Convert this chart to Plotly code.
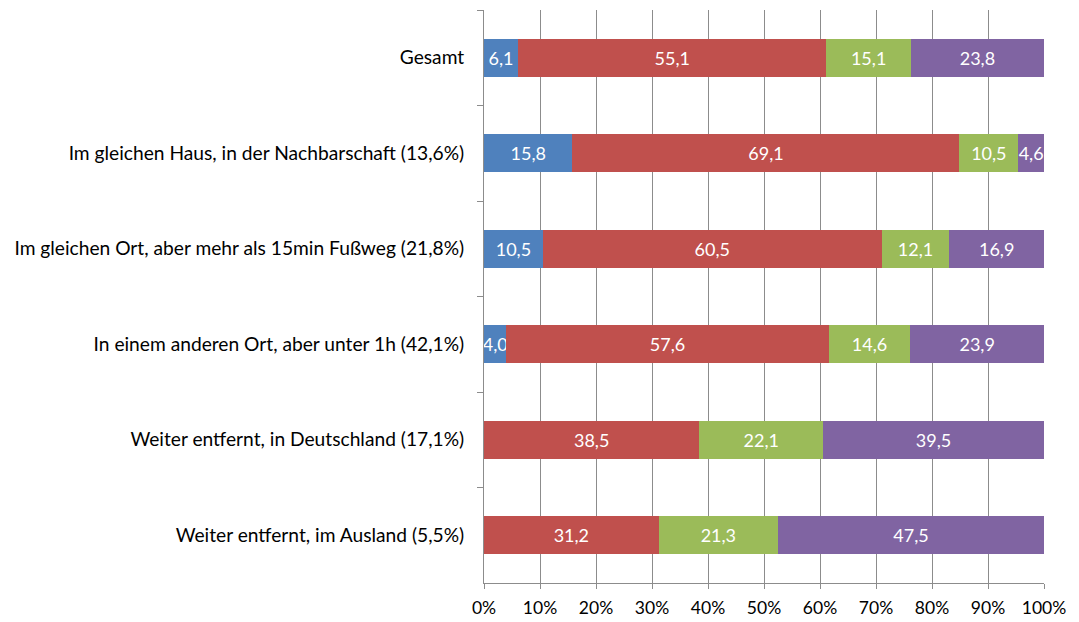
import plotly.graph_objects as go

categories = [
    "Gesamt",
    "Im gleichen Haus, in der Nachbarschaft (13,6%)",
    "Im gleichen Ort, aber mehr als 15min Fußweg (21,8%)",
    "In einem anderen Ort, aber unter 1h (42,1%)",
    "Weiter entfernt, in Deutschland (17,1%)",
    "Weiter entfernt, im Ausland (5,5%)",
]
series_names = ["Serie 1", "Serie 2", "Serie 3", "Serie 4"]
blue_vals = [6.1, 15.8, 10.5, 4.0, None, None]
red_vals = [55.1, 69.1, 60.5, 57.6, 38.5, 31.2]
green_vals = [15.1, 10.5, 12.1, 14.6, 22.1, 21.3]
purple_vals = [23.8, 4.6, 16.9, 23.9, 39.5, 47.5]
x_ticks = [0, 10, 20, 30, 40, 50, 60, 70, 80, 90, 100]
x_tick_labels = [f"{t}%" for t in x_ticks]

colors = ["#4F81BD", "#C0504D", "#9BBB59", "#8064A2"]
FONT = "Lato, Open Sans, DejaVu Sans, sans-serif"


def fmt(v):
    return "" if v is None else f"{v:.1f}".replace(".", ",")


fig = go.Figure()
for name, vals, col in zip(series_names, [blue_vals, red_vals, green_vals, purple_vals], colors):
    fig.add_trace(go.Bar(
        y=categories, x=vals, orientation="h", name=name,
        marker=dict(color=col, line=dict(width=0)),
        text=[fmt(v) for v in vals], textposition="inside",
        insidetextanchor="middle", textangle=0,
        textfont=dict(color="white", size=18, family=FONT),
        cliponaxis=False,
    ))

fig.update_layout(
    barmode="stack", barnorm="percent", bargap=0.6,
    width=1071, height=614,
    margin=dict(l=476, r=35, t=2, b=39),
    paper_bgcolor="white", plot_bgcolor="white",
    showlegend=False,
    font=dict(family=FONT, size=18, color="black"),
    uniformtext=dict(minsize=18, mode="show"),
)
fig.update_xaxes(
    range=[0, 100], tickvals=x_ticks, ticktext=x_tick_labels,
    showgrid=True, gridcolor="#8C8C8C", gridwidth=1,
    showline=True, linecolor="#8C8C8C", linewidth=1,
    ticks="outside", ticklen=5, tickcolor="#8C8C8C",
    zeroline=False, tickfont=dict(size=17.5), ticklabelstandoff=4,
    automargin=False,
)
fig.update_yaxes(
    autorange="reversed", showgrid=False,
    showline=True, linecolor="#8C8C8C", linewidth=1,
    ticks="outside", ticklen=6, tickcolor="#8C8C8C",
    tickson="boundaries", tickfont=dict(size=19.2), ticklabelstandoff=15,
    automargin=False,
)
fig.write_html("out.html")
